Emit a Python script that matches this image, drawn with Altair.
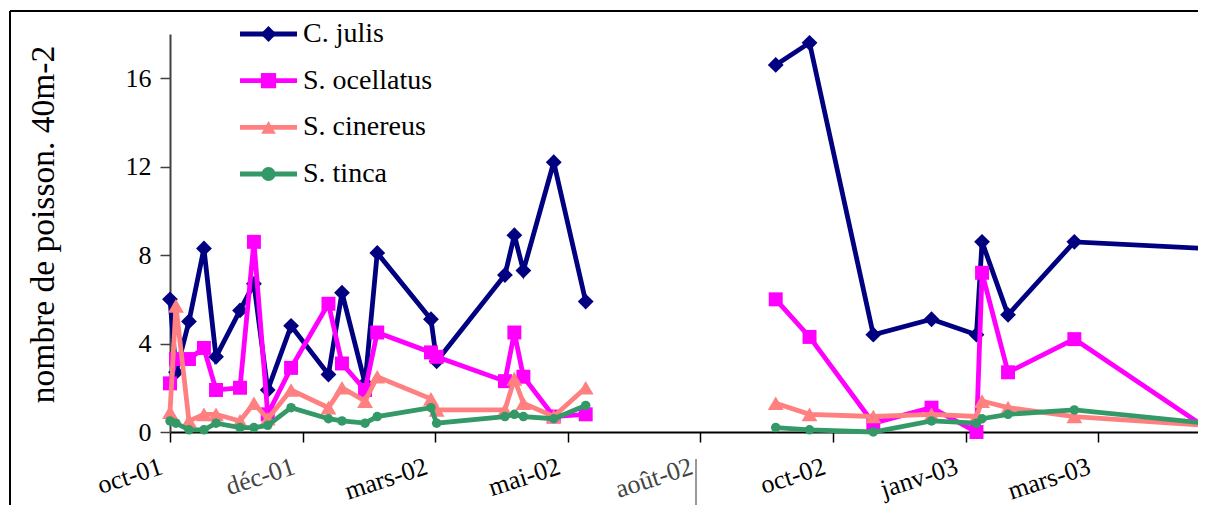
import json
import altair as alt
import pandas as pd

# ---- data ----
tick_labels = ["oct-01", "déc-01", "mars-02", "mai-02", "août-02", "oct-02", "janv-03", "mars-03"]

# x positions expressed in axis-tick units (0 = first tick "oct-01")
x_pos = [0.0, 0.045, 0.143, 0.256, 0.347, 0.528, 0.633, 0.737, 0.913, 1.195,
         1.297, 1.471, 1.563, 1.968, 2.011, 2.526, 2.597, 2.665, 2.894, 3.135,
         4.568, 4.823, 5.304, 5.743, 6.082, 6.124, 6.320, 6.820, 7.811]
period = [1] * 20 + [2] * 9

species = ["C. julis", "S. ocellatus", "S. cinereus", "S. tinca"]
c_julis = [6.0, 2.7, 5.0, 8.3, 3.4, 5.5, 6.7, 1.9, 4.8, 2.6,
           6.3, 2.2, 8.1, 5.1, 3.2, 7.1, 8.9, 7.3, 12.2, 5.9,
           16.6, 17.6, 4.4, 5.1, 4.4, 8.6, 5.3, 8.6, 8.3]
s_ocellatus = [2.2, 3.3, 3.3, 3.8, 1.9, 2.0, 8.6, 0.8, 2.9, 5.8,
               3.1, 1.9, 4.5, 3.6, 3.4, 2.3, 4.5, 2.5, 0.7, 0.8,
               6.0, 4.3, 0.4, 1.1, 0.0, 7.2, 2.7, 4.2, 0.2]
s_cinereus = [0.9, 5.7, 0.5, 0.8, 0.8, 0.5, 1.3, 0.6, 1.9, 1.1,
              2.0, 1.4, 2.5, 1.5, 1.0, 1.0, 2.4, 1.3, 0.7, 2.0,
              1.3, 0.8, 0.7, 0.8, 0.7, 1.4, 1.1, 0.7, 0.3]
s_tinca = [0.5, 0.4, 0.1, 0.1, 0.4, 0.2, 0.2, 0.3, 1.1, 0.6,
           0.5, 0.4, 0.7, 1.1, 0.4, 0.7, 0.8, 0.7, 0.6, 1.2,
           0.2, 0.1, 0.0, 0.5, 0.4, 0.6, 0.8, 1.0, 0.4]
series_values = [c_julis, s_ocellatus, s_cinereus, s_tinca]

colors = ["#000080", "#FF00FF", "#FF8080", "#339966"]
shapes = ["diamond", "square", "triangle-up", "circle"]
sizes = [250, 195, 250, 90]

y_ticks = [0, 4, 8, 12, 16]
Y_MAX = 18
PLOT_W = 1028
X_MAX = PLOT_W / 132.6
FONT = "Liberation Serif"

# ---- chart ----
x_enc = alt.X(
    "x:Q",
    scale=alt.Scale(domain=[0, X_MAX], nice=False, zero=False),
    axis=alt.Axis(
        values=list(range(len(tick_labels))),
        labelExpr=json.dumps(tick_labels) + "[datum.value]",
        title=None, grid=False,
        domainColor="black", domainWidth=2,
        tickColor="black", tickWidth=1.5, tickSize=10,
        labelFont=FONT, labelFontSize=26,
        labelColor={"condition": {"test": "datum.value == 1 || datum.value == 4", "value": "#444444"},
                    "value": "black"},
        labelAngle=342, labelAlign="right", labelBaseline="top",
        labelPadding=11, labelOffset=-13,
        labelFlush=False, labelOverlap=False, labelBound=False,
    ),
)
y_enc = alt.Y(
    "v:Q",
    scale=alt.Scale(domain=[0, Y_MAX], nice=False),
    axis=alt.Axis(
        values=y_ticks, grid=False,
        title="nombre de poisson. 40m-2",
        titleFont=FONT, titleFontSize=33.5, titleFontWeight="normal", titleColor="black",
        titleAngle=270, titleX=-110, titleY=190, titleAlign="center", titleBaseline="bottom",
        domainColor="#404040", domainWidth=2,
        tickColor="#404040", tickWidth=1.5, tickSize=10,
        labelFont=FONT, labelFontSize=26, labelColor="black", labelPadding=9,
    ),
)

series_layers = []
for name, vals, col, shp, sz in zip(species, series_values, colors, shapes, sizes):
    df = pd.DataFrame({"x": x_pos, "v": vals, "period": period, "species": name})
    base = alt.Chart(df)
    line = base.mark_line(color=col, strokeWidth=4.8).encode(x=x_enc, y=y_enc, detail="period:N")
    pts = base.mark_point(color=col, filled=True, opacity=1, shape=shp, size=sz).encode(x=x_enc, y=y_enc)
    series_layers += [line, pts]
main = alt.layer(*series_layers)

# legend drawn as marks (line + marker + label per species)
leg_df = pd.DataFrame({"species": species})
leg_y = alt.Y("species:N", scale=alt.Scale(type="point", domain=species, range=[0, 140], padding=0), axis=None)
leg_color = alt.Color("species:N", scale=alt.Scale(domain=species, range=colors), legend=None)
leg_shape = alt.Shape("species:N", scale=alt.Scale(domain=species, range=shapes), legend=None)
leg_size = alt.Size("species:N", scale=alt.Scale(domain=species, range=sizes), legend=None)
leg_base = alt.Chart(leg_df)
legend = alt.layer(
    leg_base.mark_rule(strokeWidth=4.8).encode(x=alt.value(70), x2=alt.value(127), y=leg_y, color=leg_color),
    leg_base.mark_point(filled=True, opacity=1).encode(x=alt.value(98.5), y=leg_y, color=leg_color,
                                                       shape=leg_shape, size=leg_size),
    leg_base.mark_text(align="left", baseline="middle", font=FONT, fontSize=28, color="black").encode(
        x=alt.value(133), y=leg_y, text="species:N"),
)

# outer frame of the original figure (left and top edges only; the rest is cropped)
# and the stray separator line near "août-02"
deco_df = pd.DataFrame({"k": [0]})
frame_left = alt.Chart(deco_df).mark_rule(color="black", strokeWidth=2).encode(
    x=alt.value(-160), y=alt.value(-23), y2=alt.value(480))
frame_top = alt.Chart(deco_df).mark_rule(color="black", strokeWidth=2).encode(
    x=alt.value(-160), x2=alt.value(PLOT_W), y=alt.value(-23))
sep = alt.Chart(deco_df).mark_rule(color="#777777", strokeWidth=1.5).encode(
    x=alt.value(526), y=alt.value(425), y2=alt.value(478))

chart = alt.layer(frame_left, frame_top, sep, main, legend).resolve_scale(
    y="independent", color="independent", shape="independent", size="independent"
).properties(
    width=PLOT_W, height=398,
    autosize=alt.AutoSizeParams(type="none"),
    padding={"left": 162, "top": 26, "right": 0, "bottom": 73},
).configure_view(strokeWidth=0).configure_axis(labelFont=FONT, titleFont=FONT)

chart.save("out.html", embed_options={"renderer": "svg", "actions": False})
